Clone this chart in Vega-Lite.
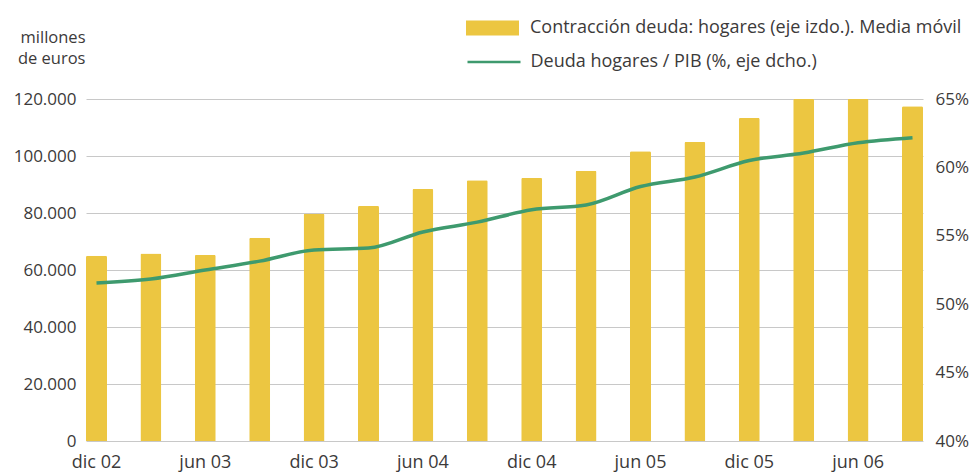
{
  "$schema": "https://vega.github.io/schema/vega-lite/v6.json",
  "width": 837,
  "height": 342,
  "autosize": {"type": "none"},
  "padding": {"left": 86, "top": 99, "right": 50, "bottom": 31},
  "background": "white",
  "config": {
    "view": {"stroke": null},
    "font": "Open Sans",
    "axis": {"labelFont": "Open Sans", "labelColor": "#3c3a3a", "labelFontSize": 17, "titleFont": "Open Sans"},
    "legend": {"labelFont": "Open Sans"}
  },
  "data": {
    "values": [
      {"periodo": "dic 02", "contraccion": 65000, "ratio": 51.55},
      {"periodo": "mar 03", "contraccion": 65800, "ratio": 51.84},
      {"periodo": "jun 03", "contraccion": 65300, "ratio": 52.5},
      {"periodo": "sep 03", "contraccion": 71300, "ratio": 53.15},
      {"periodo": "dic 03", "contraccion": 79700, "ratio": 53.96},
      {"periodo": "mar 04", "contraccion": 82500, "ratio": 54.1},
      {"periodo": "jun 04", "contraccion": 88400, "ratio": 55.28},
      {"periodo": "sep 04", "contraccion": 91500, "ratio": 56.0},
      {"periodo": "dic 04", "contraccion": 92300, "ratio": 56.9},
      {"periodo": "mar 05", "contraccion": 94800, "ratio": 57.25},
      {"periodo": "jun 05", "contraccion": 101700, "ratio": 58.6},
      {"periodo": "sep 05", "contraccion": 104900, "ratio": 59.3},
      {"periodo": "dic 05", "contraccion": 113300, "ratio": 60.5},
      {"periodo": "mar 06", "contraccion": 120000, "ratio": 61.05},
      {"periodo": "jun 06", "contraccion": 120000, "ratio": 61.8},
      {"periodo": "sep 06", "contraccion": 117500, "ratio": 62.17}
    ]
  },
  "encoding": {
    "x": {
      "field": "periodo",
      "type": "ordinal",
      "sort": null,
      "scale": {"paddingInner": 0.614, "paddingOuter": 0},
      "axis": {
        "values": ["dic 02", "jun 03", "dic 03", "jun 04", "dic 04", "jun 05", "dic 05", "jun 06"],
        "labelAngle": 0,
        "ticks": false,
        "domain": false,
        "title": null,
        "labelPadding": 12,
        "labelBaseline": "top",
        "labelFontSize": 18
      }
    }
  },
  "layer": [
    {
      "mark": {"type": "bar", "cornerRadiusTopLeft": 1.5, "cornerRadiusTopRight": 1.5},
      "encoding": {
        "y": {
          "field": "contraccion",
          "type": "quantitative",
          "scale": {"domain": [0, 120000], "nice": false},
          "axis": {
            "values": [0, 20000, 40000, 60000, 80000, 100000, 120000],
            "labelExpr": "replace(format(datum.value, ','), ',', '.')",
            "grid": true,
            "gridColor": "#c8c8c8",
            "gridWidth": 1,
            "domain": false,
            "ticks": false,
            "labelPadding": 10,
            "title": ["millones", "de euros"],
            "titleAngle": 0,
            "titleX": -1,
            "titleY": -57,
            "titleAlign": "right",
            "titleBaseline": "alphabetic",
            "titleFontSize": 16.5,
            "titleFontWeight": "normal",
            "titleColor": "#3c3a3a",
            "titleLineHeight": 21
          }
        },
        "fill": {
          "datum": "Contracción deuda: hogares (eje izdo.). Media móvil",
          "type": "nominal",
          "scale": {"range": ["#ECC641"]},
          "legend": {
            "orient": "none",
            "legendX": 380,
            "legendY": -97.5,
            "title": null,
            "padding": 0,
            "symbolType": "M-1,-0.283H1V0.283H-1Z",
            "symbolSize": 2809,
            "symbolStrokeWidth": 0,
            "labelOffset": 11,
            "labelFontSize": 18,
            "labelColor": "#3c3a3a",
            "labelLimit": 600
          }
        }
      }
    },
    {
      "mark": {"type": "line", "interpolate": "monotone", "strokeWidth": 3.5},
      "encoding": {
        "y": {
          "field": "ratio",
          "type": "quantitative",
          "scale": {"domain": [40, 65], "nice": false, "zero": false},
          "axis": {
            "orient": "right",
            "values": [40, 45, 50, 55, 60, 65],
            "labelExpr": "datum.value + '%'",
            "grid": false,
            "domain": false,
            "ticks": false,
            "labelPadding": 12,
            "title": null
          }
        },
        "stroke": {
          "datum": "Deuda hogares / PIB (%, eje dcho.)",
          "type": "nominal",
          "scale": {"range": ["#3E9A6E"]},
          "legend": {
            "orient": "none",
            "legendX": 380,
            "legendY": -65,
            "title": null,
            "padding": 0,
            "symbolType": "stroke",
            "symbolSize": 2809,
            "symbolStrokeWidth": 2.5,
            "labelOffset": 8.5,
            "labelFontSize": 18,
            "labelColor": "#3c3a3a",
            "labelLimit": 600
          }
        }
      }
    }
  ],
  "resolve": {"scale": {"y": "independent", "fill": "independent", "stroke": "independent"}}
}
